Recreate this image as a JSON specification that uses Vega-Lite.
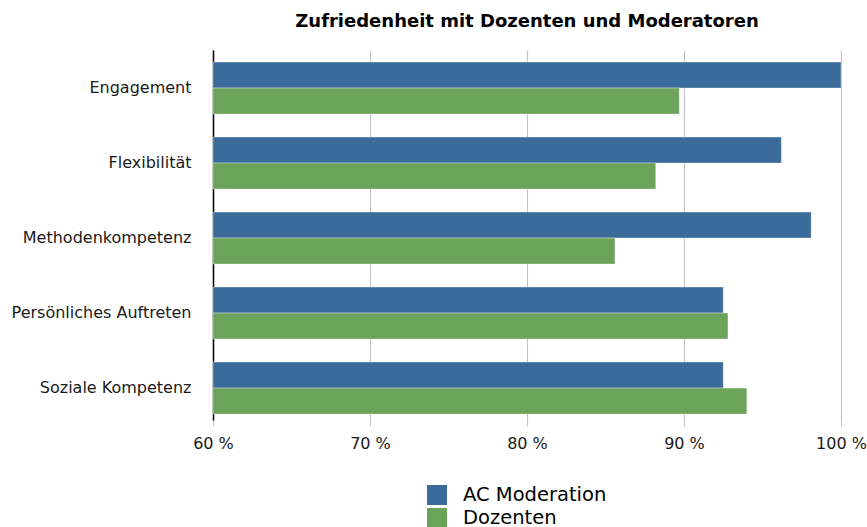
{
  "$schema": "https://vega.github.io/schema/vega-lite/v6.json",
  "width": 628,
  "height": 370,
  "autosize": {"type": "none"},
  "padding": {"left": 213, "top": 50, "right": 26, "bottom": 107},
  "background": "white",
  "config": {
    "font": "DejaVu Sans",
    "view": {"stroke": null}
  },
  "title": {
    "text": "Zufriedenheit mit Dozenten und Moderatoren",
    "fontSize": 18,
    "fontWeight": "bold",
    "font": "DejaVu Sans",
    "color": "#000000",
    "anchor": "middle",
    "offset": 19
  },
  "data": {
    "values": [
      {"kategorie": "Engagement", "gruppe": "AC Moderation", "wert": 100},
      {"kategorie": "Engagement", "gruppe": "Dozenten", "wert": 89.7},
      {"kategorie": "Flexibilität", "gruppe": "AC Moderation", "wert": 96.2},
      {"kategorie": "Flexibilität", "gruppe": "Dozenten", "wert": 88.2},
      {"kategorie": "Methodenkompetenz", "gruppe": "AC Moderation", "wert": 98.1},
      {"kategorie": "Methodenkompetenz", "gruppe": "Dozenten", "wert": 85.6},
      {"kategorie": "Persönliches Auftreten", "gruppe": "AC Moderation", "wert": 92.5},
      {"kategorie": "Persönliches Auftreten", "gruppe": "Dozenten", "wert": 92.8},
      {"kategorie": "Soziale Kompetenz", "gruppe": "AC Moderation", "wert": 92.5},
      {"kategorie": "Soziale Kompetenz", "gruppe": "Dozenten", "wert": 94.0}
    ]
  },
  "mark": {"type": "bar", "stroke": "#ffffff", "strokeOpacity": 0.35, "strokeWidth": 1},
  "encoding": {
    "y": {
      "field": "kategorie",
      "type": "nominal",
      "sort": null,
      "title": null,
      "scale": {"paddingInner": 0.307, "paddingOuter": 0.12, "align": 0.67},
      "axis": {
        "ticks": false,
        "domain": true,
        "domainColor": "#000000",
        "domainWidth": 1.5,
        "labelFontSize": 16,
        "labelColor": "#1a1a1a",
        "labelPadding": 22,
        "grid": false
      }
    },
    "yOffset": {
      "field": "gruppe",
      "type": "nominal",
      "sort": ["AC Moderation", "Dozenten"],
      "scale": {"paddingInner": 0, "paddingOuter": 0}
    },
    "x": {
      "field": "wert",
      "type": "quantitative",
      "title": null,
      "scale": {"domain": [60, 100], "zero": false, "clamp": true},
      "axis": {
        "values": [60, 70, 80, 90, 100],
        "labelExpr": "datum.value + ' %'",
        "labelFlush": false,
        "domain": false,
        "grid": true,
        "gridColor": "#c4c4c4",
        "gridWidth": 1.2,
        "ticks": true,
        "tickSize": 6,
        "tickColor": "#c4c4c4",
        "labelFontSize": 16,
        "labelColor": "#1a1a1a",
        "labelPadding": 9
      }
    },
    "color": {
      "field": "gruppe",
      "type": "nominal",
      "sort": ["AC Moderation", "Dozenten"],
      "scale": {"domain": ["AC Moderation", "Dozenten"], "range": ["#3a6b9b", "#6ba35a"]},
      "legend": {
        "title": null,
        "orient": "none",
        "legendX": 214,
        "legendY": 435,
        "direction": "vertical",
        "symbolType": "square",
        "symbolSize": 400,
        "symbolStrokeWidth": 0,
        "labelFontSize": 19.5,
        "labelColor": "#000000",
        "rowPadding": 3,
        "labelOffset": 16
      }
    }
  }
}
